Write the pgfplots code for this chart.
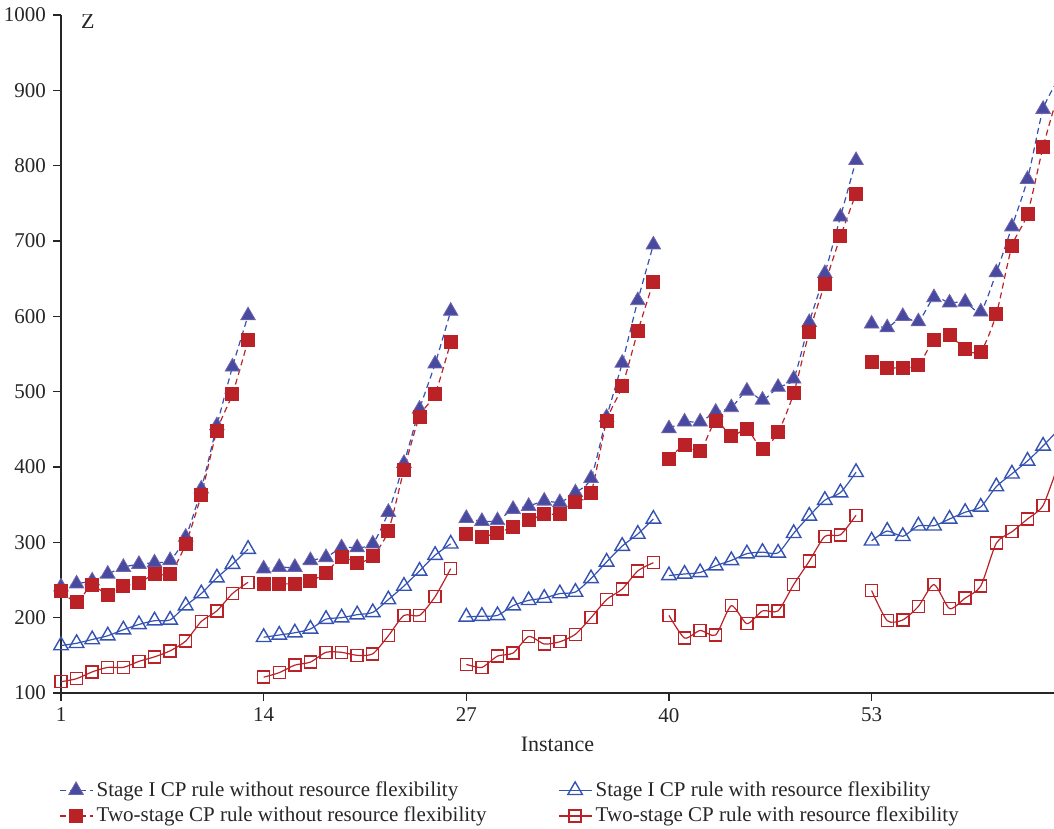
\documentclass[border=0pt]{standalone}
\usepackage{fontspec}
\setmainfont{Liberation Serif}
\usepackage{pgfplots}
\usepackage{pgfplotstable}
\pgfplotsset{compat=1.18}
\definecolor{cblue}{RGB}{52,82,178}
\definecolor{tfill}{RGB}{72,74,160}
\definecolor{tdraw}{RGB}{112,100,172}
\definecolor{cred}{RGB}{186,34,40}
\pgfplotstableread{
x A B C D
1 241 235 163 115
2 245 221 166 119
3 249 243 171 128
4 258 230 176 134
5 267 242 184 134
6 271 246 191 142
7 273 258 196 148
8 276 258 197 156
9 307 298 216 169
10 371 363 232 195
11 455 448 253 209
12 533 497 271 232
13 601 568 291 247
13.5 nan nan nan nan
14 265 245 174 121
15 267 245 177 127
16 267 245 180 137
17 276 249 185 141
18 280 259 198 154
19 293 281 200 154
20 293 272 204 150
21 298 282 207 152
22 340 315 224 176
23 405 396 242 203
24 477 467 262 203
25 537 497 283 228
26 607 566 298 265
26.5 nan nan nan nan
27 332 311 201 138
28 328 307 202 134
29 329 313 203 149
30 344 320 216 153
31 348 329 223 175
32 355 337 226 165
33 353 338 232 168
34 366 354 234 178
35 385 366 252 200
36 466 461 274 224
37 538 507 295 238
38 621 580 311 262
39 695 646 331 273
39.5 nan nan nan nan
40 451 411 256 203
41 460 429 258 173
42 460 421 260 183
43 473 461 269 177
44 479 441 276 216
45 501 450 285 192
46 489 424 287 209
47 506 446 286 209
48 517 498 312 244
49 592 579 335 275
50 657 643 356 308
51 732 706 366 310
52 807 763 393 336
52.5 nan nan nan nan
53 590 540 302 236
54 585 532 315 196
55 600 532 308 197
56 593 535 322 215
57 625 569 322 244
58 618 575 331 212
59 619 556 340 226
60 606 553 347 242
61 658 603 374 299
62 719 693 391 314
63 782 736 408 331
64 875 825 428 349
65 915 898 450 405
}\datatable
\begin{document}
\begin{tikzpicture}
\useasboundingbox (-30.5pt,-68pt) rectangle (496.5pt,346.5pt);
\begin{axis}[
  at={(0,0)}, anchor=south west,
  scale only axis, width=496.5pt, height=339pt,
  xmin=1, xmax=64.7, ymin=100, ymax=1000,
  axis x line*=bottom, axis y line*=left,
  axis line style={black!85, line width=0.7pt},
  tick style={black!85, line width=0.7pt},
  tick align=outside, major tick length=4pt,
  xtick={1,14,27,40,53},
  ytick={100,200,...,1000},
  /pgf/number format/assume math mode=true,
  /pgf/number format/1000 sep={},
  ticklabel style={font=\fontsize{10.5}{12}\selectfont, text=black!85},
  xlabel={Instance},
  xlabel style={font=\fontsize{11}{13}\selectfont, text=black!85, yshift=-0.5pt},
  unbounded coords=jump,
  legend columns=2,
  legend cell align=left,
  legend style={at={(rel axis cs:-0.008,-0.118)}, anchor=north west, draw=none, fill=none,
    font=\fontsize{10.5}{12.5}\selectfont, text=black!85,
    row sep=0pt, /tikz/column 2/.style={column sep=34pt}},
  legend image code/.code={\draw[#1] (0pt,0pt) -- (16pt,0pt); \draw[#1, mark repeat=2, mark phase=2] plot coordinates {(0pt,0pt) (8pt,0pt) (16pt,0pt)};},
]
\addplot[cblue, line width=0.6pt, dash pattern=on 3pt off 2pt, smooth, tension=0.4,
  mark=triangle*, mark size=4.2pt, mark options={solid, fill=tfill, draw=tdraw, line width=0.4pt}]
  table[x=x, y=A] {\datatable};
\addlegendentry{Stage I CP rule without resource flexibility}
\addplot[cblue, line width=0.6pt, smooth, tension=0.4,
  mark=triangle, mark size=4.2pt, mark options={solid, draw=cblue, line width=0.7pt, fill=none}]
  table[x=x, y=C] {\datatable};
\addlegendentry{Stage I CP rule with resource flexibility}
\addplot[cred, line width=0.6pt, dash pattern=on 3pt off 2pt, smooth, tension=0.4,
  mark=square*, mark size=3.2pt, mark options={solid, fill=cred, draw=cred}]
  table[x=x, y=B] {\datatable};
\addlegendentry{Two-stage CP rule without resource flexibility}
\addplot[cred, line width=0.6pt, smooth, tension=0.4,
  mark=square, mark size=3.0pt, mark options={solid, draw=cred, line width=0.7pt, fill=none}]
  table[x=x, y=D] {\datatable};
\addlegendentry{Two-stage CP rule with resource flexibility}
\node[anchor=center, font=\fontsize{11}{13}\selectfont, text=black!85] at (rel axis cs:0.027,0.991) {Z};
\end{axis}
\end{tikzpicture}
\end{document}
